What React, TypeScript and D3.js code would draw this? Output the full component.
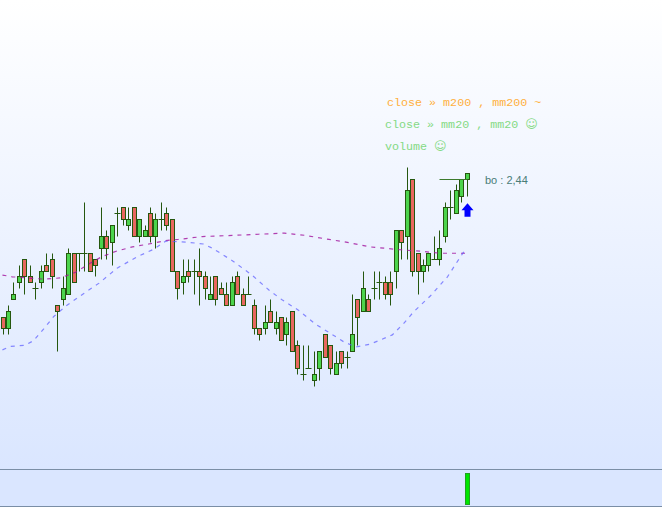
import * as d3 from 'd3';

const WIDTH = 662;
const HEIGHT = 507;

// prices, one entry per session
const opens = [
  2.19, 2.17, 2.22, 2.25, 2.29, 2.26, 2.24, 2.25, 2.28, 2.29,
  2.21, 2.22, 2.23, 2.30, 2.30, 2.30, 2.30, 2.29, 2.31, 2.33,
  2.32, 2.37, 2.38, 2.35, 2.38, 2.33, 2.33, 2.37, 2.33, 2.36,
  2.37, 2.36, 2.27, 2.25, 2.27, 2.27, 2.27, 2.26, 2.22, 2.26,
  2.24, 2.23, 2.21, 2.26, 2.23, 2.23, 2.21, 2.17, 2.17, 2.20,
  2.17, 2.19, 2.16, 2.20, 2.14, 2.09, 2.10, 2.08, 2.10, 2.16,
  2.14, 2.09, 2.13, 2.12, 2.13, 2.22, 2.20, 2.22, 2.24, 2.25,
  2.25, 2.25, 2.27, 2.34, 2.33, 2.43, 2.30, 2.27, 2.28, 2.29,
  2.29, 2.33, 2.38, 2.37, 2.40, 2.43,
];
const closes = [
  2.17, 2.20, 2.23, 2.26, 2.26, 2.25, 2.24, 2.27, 2.27, 2.26,
  2.20, 2.24, 2.30, 2.25, 2.30, 2.30, 2.27, 2.28, 2.33, 2.31,
  2.35, 2.37, 2.36, 2.36, 2.33, 2.36, 2.34, 2.33, 2.36, 2.36,
  2.35, 2.27, 2.24, 2.26, 2.26, 2.27, 2.26, 2.24, 2.23, 2.22,
  2.23, 2.21, 2.25, 2.23, 2.21, 2.23, 2.17, 2.16, 2.18, 2.18,
  2.18, 2.15, 2.18, 2.13, 2.10, 2.09, 2.10, 2.09, 2.13, 2.12,
  2.10, 2.11, 2.11, 2.12, 2.16, 2.19, 2.24, 2.20, 2.24, 2.25,
  2.23, 2.23, 2.34, 2.32, 2.41, 2.27, 2.27, 2.28, 2.30, 2.29,
  2.31, 2.38, 2.38, 2.41, 2.43, 2.44,
];
const highs = [
  2.19, 2.21, 2.25, 2.28, 2.29, 2.28, 2.25, 2.28, 2.30, 2.30,
  2.21, 2.26, 2.31, 2.30, 2.30, 2.39, 2.30, 2.29, 2.38, 2.34,
  2.35, 2.38, 2.38, 2.38, 2.38, 2.36, 2.35, 2.38, 2.37, 2.39,
  2.38, 2.36, 2.27, 2.29, 2.29, 2.29, 2.31, 2.27, 2.26, 2.26,
  2.25, 2.25, 2.26, 2.27, 2.24, 2.26, 2.22, 2.17, 2.21, 2.22,
  2.20, 2.19, 2.19, 2.20, 2.15, 2.14, 2.14, 2.13, 2.13, 2.16,
  2.14, 2.13, 2.13, 2.13, 2.23, 2.22, 2.27, 2.23, 2.27, 2.27,
  2.26, 2.27, 2.34, 2.34, 2.45, 2.43, 2.30, 2.29, 2.30, 2.33,
  2.34, 2.39, 2.41, 2.42, 2.43, 2.44,
];
const lows = [
  2.16, 2.16, 2.22, 2.24, 2.23, 2.25, 2.22, 2.24, 2.27, 2.24,
  2.13, 2.21, 2.23, 2.25, 2.27, 2.27, 2.27, 2.26, 2.29, 2.29,
  2.28, 2.33, 2.35, 2.34, 2.33, 2.32, 2.33, 2.32, 2.31, 2.34,
  2.34, 2.27, 2.22, 2.23, 2.25, 2.23, 2.21, 2.22, 2.22, 2.21,
  2.23, 2.21, 2.21, 2.23, 2.21, 2.23, 2.16, 2.15, 2.16, 2.18,
  2.16, 2.15, 2.14, 2.13, 2.09, 2.08, 2.10, 2.07, 2.08, 2.12,
  2.09, 2.09, 2.10, 2.10, 2.13, 2.14, 2.20, 2.20, 2.22, 2.22,
  2.22, 2.21, 2.24, 2.29, 2.29, 2.26, 2.23, 2.25, 2.27, 2.29,
  2.28, 2.32, 2.36, 2.37, 2.39, 2.40,
];

// moving averages as [session, price]
const mm200: [number, number][] = [
  [-0.2, 2.263], [1.6, 2.26], [4.4, 2.258], [7.3, 2.256], [10.4, 2.258], [13.2, 2.268], [15.4, 2.281],
  [18, 2.295], [20.8, 2.305], [23.6, 2.312], [26.6, 2.317], [29.7, 2.323], [32, 2.325], [36.4, 2.33],
  [41.9, 2.332], [46.7, 2.334], [51.4, 2.336], [55.3, 2.332], [59.6, 2.325], [62.3, 2.321],
  [67.2, 2.312], [72.7, 2.307], [77, 2.304], [80, 2.301], [85, 2.301],
];
const mm20: [number, number][] = [
  [-0.2, 2.133], [1.3, 2.139], [4, 2.141], [5.5, 2.149], [7.4, 2.17], [9.2, 2.191], [11.4, 2.209],
  [14.7, 2.231], [17.5, 2.249], [20.8, 2.275], [24.5, 2.295], [27.5, 2.308], [29.7, 2.322], [33.9, 2.32],
  [36.6, 2.317], [38.2, 2.31], [41.9, 2.288], [45.5, 2.263], [48.6, 2.237], [51, 2.22], [54, 2.202],
  [57.1, 2.178], [60.8, 2.156], [62.3, 2.147], [64.5, 2.138], [67.2, 2.143], [71.2, 2.159], [73.3, 2.179],
  [75.1, 2.199], [78.2, 2.227], [81.3, 2.26], [83.7, 2.295], [84.6, 2.308],
];

const breakoutLevel = 2.43;
const breakoutFrom = 80;

const volumeSession = 85;
const volumeValue = 32;

const signalLines = [
  { text: 'close » m200 , mm200 ~', smile: '', color: '#ffb040', x: 387, y: 106 },
  { text: 'close » mm20 , mm20 ', smile: '☺', color: '#84da84', x: 385, y: 128 },
  { text: 'volume ', smile: '☺', color: '#84da84', x: 385, y: 150 },
];

const x = d3.scaleLinear().domain([0, 85]).range([3.05, 467.15]);
const y = d3.scaleLinear().domain([2.08, 2.44]).range([380.3, 173.3]);
const volumeY = d3.scaleLinear().domain([0, 32]).range([505, 473]);

// snap to the pixel grid, the original has no antialiasing on candles
const px = (v: number) => Math.floor(v) + 0.5;

const maLine = d3
  .line<[number, number]>()
  .x(d => x(d[0]) + 0.5)
  .y(d => y(d[1]));

export default function App() {
  const arrowX = px(x(volumeSession));
  const arrowTop = y(2.44) + 30;
  const arrow = d3.path();
  arrow.moveTo(arrowX, arrowTop);
  arrow.lineTo(arrowX + 6, arrowTop + 7);
  arrow.lineTo(arrowX + 3, arrowTop + 7);
  arrow.lineTo(arrowX + 3, arrowTop + 13.5);
  arrow.lineTo(arrowX - 3, arrowTop + 13.5);
  arrow.lineTo(arrowX - 3, arrowTop + 7);
  arrow.lineTo(arrowX - 6, arrowTop + 7);
  arrow.closePath();

  return (
    <svg
      width={WIDTH}
      height={HEIGHT}
      style={{ position: 'absolute', left: 0, top: 0, display: 'block' }}
    >
      <defs>
        <linearGradient id="bg" x1="0" x2="0" y1="0" y2="1">
          <stop offset="0%" stopColor="#ffffff" />
          <stop offset="100%" stopColor="#dae6ff" />
        </linearGradient>
      </defs>
      <rect width={WIDTH} height={469} fill="url(#bg)" />
      <rect y={469} width={WIDTH} height={38} fill="#dae6ff" />
      <line x1={0} x2={WIDTH} y1={469.5} y2={469.5} stroke="#7a8ea6" />
      <line x1={0} x2={WIDTH} y1={506.5} y2={506.5} stroke="#7a8ea6" />

      {/* volume */}
      <rect
        x={px(x(volumeSession)) - 2}
        y={px(volumeY(volumeValue))}
        width={4}
        height={volumeY(0) - volumeY(volumeValue) - 1}
        fill="#00e600"
        stroke="#22a022"
      />

      {/* candles */}
      <g>
        {opens.map((open, i) => {
          const close = closes[i];
          const cx = px(x(i));
          const top = px(y(Math.max(open, close)));
          const bottom = px(y(Math.min(open, close)));
          return (
            <g key={i}>
              <line x1={cx} x2={cx} y1={px(y(highs[i]))} y2={px(y(lows[i]))} stroke="#25570f" />
              {open === close ? (
                <line x1={cx - 3} x2={cx + 3} y1={top} y2={top} stroke="#25570f" />
              ) : (
                <rect
                  x={cx - 2}
                  y={top}
                  width={4}
                  height={bottom - top}
                  fill={close > open ? '#4cd44c' : '#e8675f'}
                  stroke="#25570f"
                />
              )}
            </g>
          );
        })}
        <line
          x1={px(x(breakoutFrom))}
          x2={px(x(volumeSession))}
          y1={px(y(breakoutLevel))}
          y2={px(y(breakoutLevel))}
          stroke="#3c7a2c"
        />
      </g>

      {/* moving averages */}
      <path d={maLine(mm200) ?? ''} fill="none" stroke="#a0109c" strokeOpacity={0.8} strokeWidth={1.2} strokeDasharray="4 5" />
      <path d={maLine(mm20) ?? ''} fill="none" stroke="#5a5aff" strokeOpacity={0.7} strokeWidth={1.2} strokeDasharray="4 5" />

      <path d={arrow.toString()} fill="#0000ff" />

      {signalLines.map(l => (
        <text
          key={l.text}
          x={l.x}
          y={l.y}
          fill={l.color}
          fontFamily="'Liberation Mono', monospace"
          fontSize={11.7}
        >
          {l.text}
          <tspan fontSize={12} fontFamily="'DejaVu Sans', sans-serif">{l.smile}</tspan>
        </text>
      ))}
      <text x={485} y={184} fill="#4a7d78" fontFamily="'Liberation Sans', sans-serif" fontSize={11}>
        bo : 2,44
      </text>
    </svg>
  );
}
